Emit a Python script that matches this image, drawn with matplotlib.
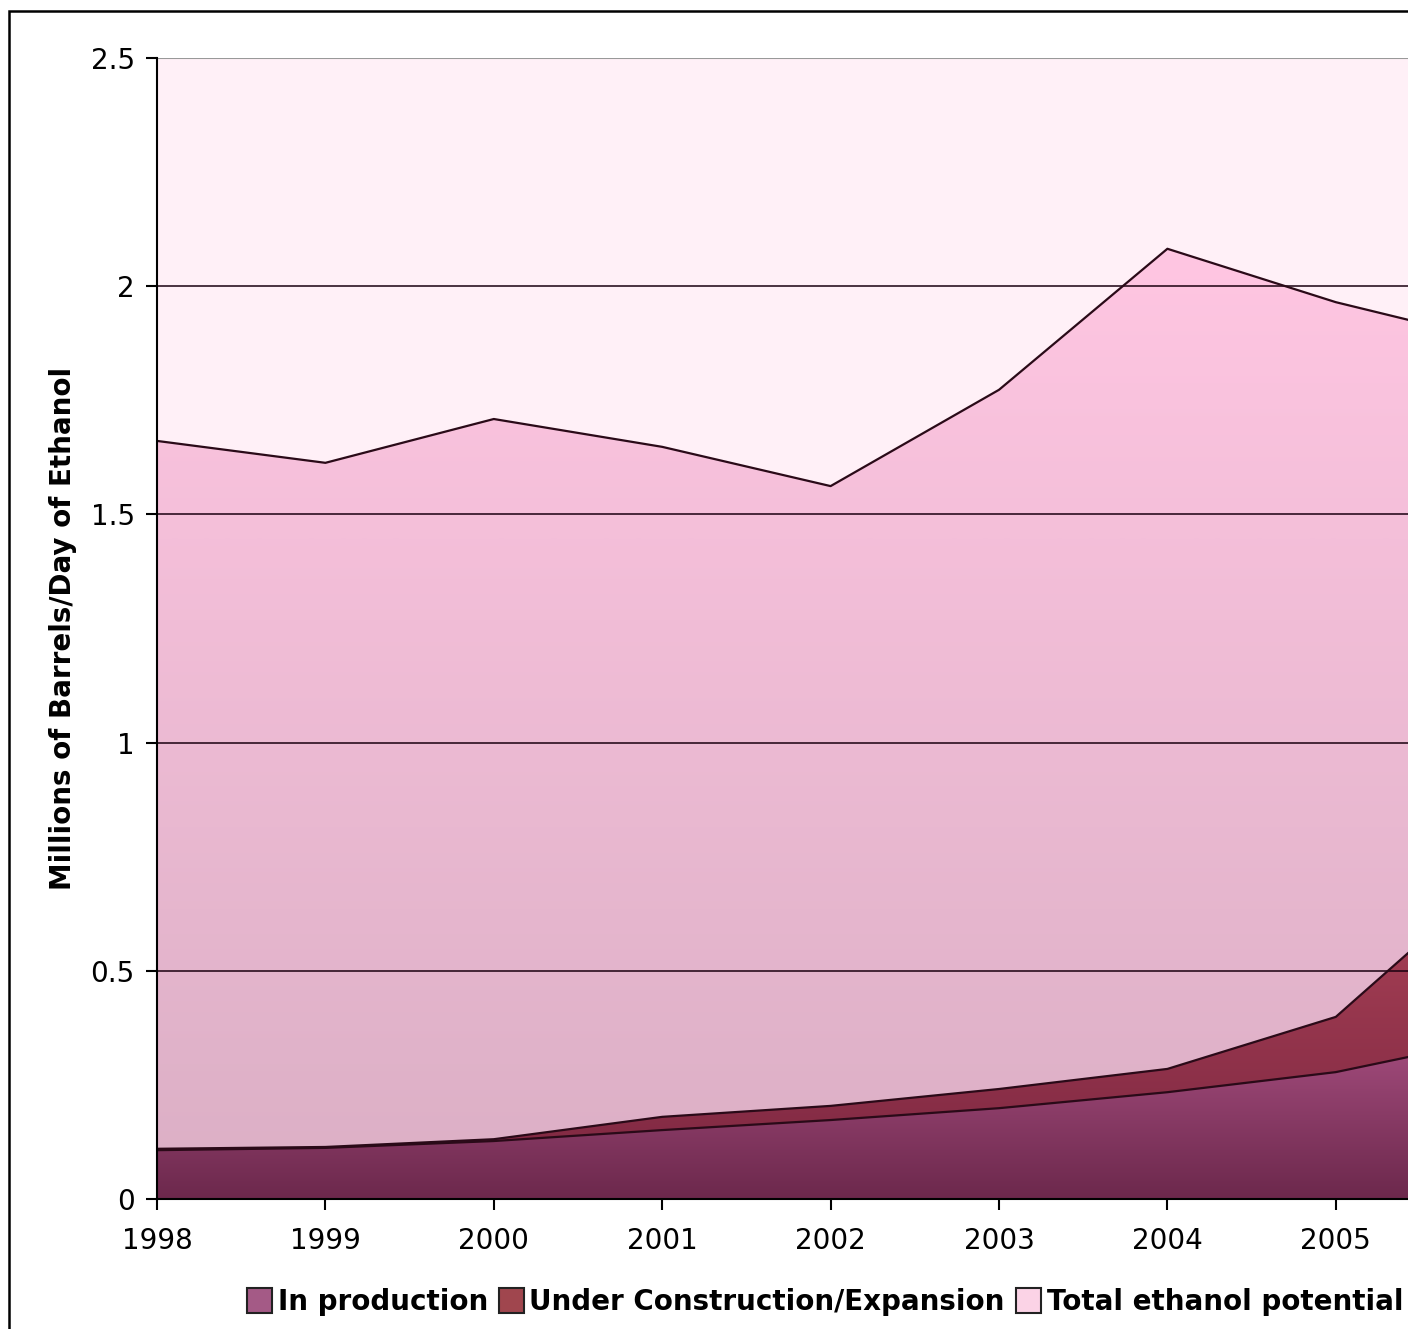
import numpy as np
import matplotlib
matplotlib.use("Agg")
import matplotlib.pyplot as plt
from matplotlib.colors import LinearSegmentedColormap
from matplotlib.patches import Polygon, Rectangle, Patch

years = [1998, 1999, 2000, 2001, 2002, 2003, 2004, 2005, 2006]
in_production = [0.107, 0.112, 0.127, 0.151, 0.173, 0.199, 0.234, 0.278, 0.355]
under_construction = [0.003, 0.002, 0.004, 0.029, 0.031, 0.042, 0.051, 0.121, 0.370]
total_potential = [1.551, 1.499, 1.578, 1.468, 1.358, 1.532, 1.797, 1.566, 1.150]

series_names = ["In production", "Under Construction/Expansion", "Total ethanol potential"]
# (bottom colour, top colour) for each band's vertical gradient
grad_colors = [("#6c284c", "#a44d7e"),
               ("#7a2540", "#ad4458"),
               ("#dbafc5", "#ffc6e2")]
legend_faces = ["#a45a86", "#a0464e", "#fbd3e6"]

fig = plt.figure(figsize=(14.08, 13.29), dpi=100)
fig.patch.set_facecolor("white")

W, H = 1408, 1329
x0, y0 = 157, 1199
px_year = 168.4
px_unit = (1199 - 58) / 2.5
ax = fig.add_axes([x0 / W, (H - y0) / H, 8 * px_year / W, 2.5 * px_unit / H])
ax.set_facecolor("#fff0f7")

x = np.array(years, dtype=float)
stack = np.cumsum(np.vstack([in_production, under_construction, total_potential]), axis=0)
lower = np.vstack([np.zeros(len(x)), stack[:-1]])

for i in range(3):
    y_lo, y_hi = lower[i], stack[i]
    verts = np.concatenate([np.column_stack([x, y_hi]), np.column_stack([x[::-1], y_lo[::-1]])])
    poly = Polygon(verts, closed=True, facecolor="none", edgecolor="none")
    ax.add_patch(poly)
    cmap = LinearSegmentedColormap.from_list("g%d" % i, grad_colors[i])
    top = y_hi.max()
    grad = np.linspace(0, 1, 256).reshape(-1, 1)
    im = ax.imshow(grad, cmap=cmap, origin="lower", aspect="auto",
                   extent=[1998, 2006, 0, top], zorder=1 + i * 0.01, interpolation="bilinear")
    im.set_clip_path(poly)
    ax.plot(x, y_hi, color="#2a0a18", lw=1.6, zorder=3)

ax.set_xlim(1998, 2006)
ax.set_ylim(0, 2.5)

# horizontal grid over the bands
for g in [0.5, 1.0, 1.5, 2.0]:
    ax.axhline(g, color="#1a0010", lw=1.3, alpha=0.85, zorder=2.5)
ax.axhline(2.5, color="#999999", lw=1.5, zorder=2.5)

for s in ["top", "right"]:
    ax.spines[s].set_visible(False)
ax.spines["left"].set_linewidth(1.5)
ax.spines["bottom"].set_linewidth(1.5)
ax.spines["left"].set_zorder(4)
ax.spines["bottom"].set_zorder(4)

ax.set_xticks(years)
ax.set_xticklabels([str(y) for y in years[:-1]] + [""])
ax.set_yticks([0, 0.5, 1, 1.5, 2, 2.5])
ax.set_yticklabels(["0", "0.5", "1", "1.5", "2", "2.5"])
ax.tick_params(axis="both", direction="out", length=8, width=1.5, labelsize=20,
               colors="black")
ax.tick_params(axis="x", pad=12)
ax.tick_params(axis="y", pad=8)

ax.set_ylabel("Millions of Barrels/Day of Ethanol", fontsize=20, fontweight="bold", labelpad=10)

handles = [Patch(facecolor=c, edgecolor="#222222", linewidth=1.5) for c in legend_faces]
fig.legend(handles, series_names, loc="center left", bbox_to_anchor=(222 / W, (H - 1302) / H),
           ncol=3, frameon=False, prop={"size": 20, "weight": "bold"},
           handlelength=0.9, handleheight=1.0, handletextpad=0.2, columnspacing=0.4)

# outer chart border
fig.patches.append(Rectangle((9 / W, -0.05), 1.2, (H - 11) / H + 0.05, transform=fig.transFigure,
                             fill=False, edgecolor="black", linewidth=1.8))

fig.savefig("out.png", dpi=100)
